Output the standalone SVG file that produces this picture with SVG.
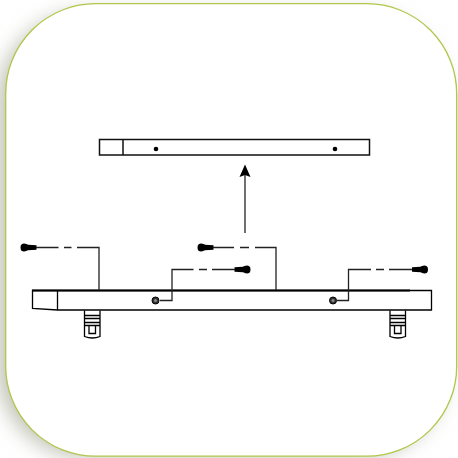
<svg xmlns="http://www.w3.org/2000/svg" width="458" height="458" viewBox="0 0 458 458">
<style>
.l{fill:none;stroke:#000;stroke-width:1.300}
.t{fill:none;stroke:#111;stroke-width:1.500}
.c{fill:none;stroke:#222;stroke-width:1.300}
.s{fill:#000;stroke:none}
</style>
<defs>
<filter id="b" x="-20%" y="-20%" width="140%" height="140%"><feGaussianBlur stdDeviation="10"/></filter>
<g id="clip"><path class="l" d="M0 0V26Q8 29 15.500 26V0M0 5H15.500M0 8H15.500M0 12H15.500M0 15H15.500"/><path class="l" d="M4.500 15V23H11V15"/></g>
<g id="screwL"><path class="s" d="M0 0C0 -3 1.500 -4 3.500 -4C5.500 -4 6.500 -3.200 7.500 -2.800L16 -2.200V2.200L7.500 2.800C6.500 3.200 5.500 4 3.500 4C1.500 4 0 3 0 0Z"/></g>
</defs>
<rect width="458" height="458" fill="#fff"/>
<rect x="-3" y="12" width="450" height="446" rx="90" fill="#c2c5b8" filter="url(#b)"/>
<rect id="panel" x="5.700" y="3.700" width="451" height="452.500" rx="90" fill="#fff" stroke="#afc74a" stroke-width="1.300"/>
<g id="beam">
<rect class="t" x="99.500" y="139.500" width="270" height="15.500"/>
<path class="t" d="M123 139.500V155"/>
<circle cx="156" cy="149" r="2.300" class="s"/>
<circle cx="335" cy="149" r="2.300" class="s"/>
</g>
<g id="rail">
<path class="l" d="M32.500 290.500H431.500V310H57.500L32.500 308.500Z"/>
<path fill="none" stroke="#000" stroke-width="2" d="M32 290.500H410"/>
<path class="l" d="M57.500 290.500V310"/>
<circle cx="155.500" cy="300.500" r="3.500" fill="#333" stroke="#000"/><circle cx="155.500" cy="300.500" r="1.500" fill="#888"/>
<circle cx="333" cy="300.500" r="3.500" fill="#333" stroke="#000"/><circle cx="333" cy="300.500" r="1.500" fill="#888"/>
</g>
<g id="clip-left"><use href="#clip" x="84.500" y="310.500"/></g>
<g id="clip-right"><use href="#clip" x="390" y="310.500"/></g>
<g id="screw-1"><use href="#screwL" x="20.500" y="247.500"/></g>
<g id="screw-2"><use href="#screwL" x="197.500" y="247.500"/></g>
<g id="screw-3"><use href="#screwL" transform="translate(250.500 269.500) scale(-1 1)"/></g>
<g id="screw-4"><use href="#screwL" transform="translate(428 269.500) scale(-1 1)"/></g>
<g id="connectors">
<path class="c" d="M36 247.500H58.500M64 247.500H71.500M77 247.500H99V290"/>
<path class="c" d="M213 247.500H234M240 247.500H249M255 247.500H276V290"/>
<path class="c" d="M160 300.500H172V269.500H193.500M199 269.500H207M212 269.500H235"/>
<path class="c" d="M337 300.500H348.500V269.500H371M376 269.500H384M389 269.500H412"/>
<path class="c" d="M245 233V172"/>
<path class="s" d="M245 164.500L250.500 177L245 175L239.500 177Z"/>
</g>
</svg>
